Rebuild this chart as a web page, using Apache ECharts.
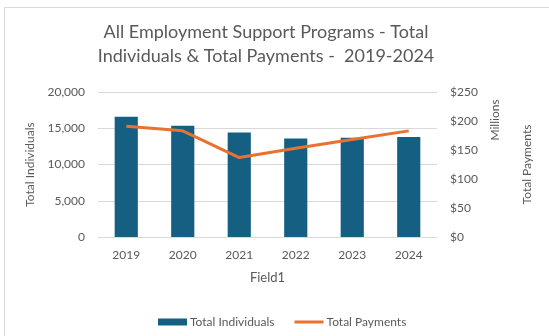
<!DOCTYPE html>
<html>
<head>
<meta charset="utf-8">
<script src="https://cdn.jsdelivr.net/npm/echarts@6/dist/echarts.min.js"></script>
<style>
  html, body { margin: 0; padding: 0; background: #ffffff; }
  #chart { width: 549px; height: 336px; }
</style>
</head>
<body>
<div id="chart"></div>
<script>
// Program years
const years = ['2019', '2020', '2021', '2022', '2023', '2024'];
// Number of individuals supported each year
const totalIndividuals = [16600, 15350, 14400, 13600, 13700, 13800];
// Total payments each year, in millions of dollars
const totalPaymentsMillions = [191, 183, 137, 153, 168, 183];
// Axis tick settings
const individualsTicks = { min: 0, max: 20000, interval: 5000 };
const paymentsTicks = { min: 0, max: 250, interval: 50 };

const textColor = '#595959';
const gridColor = '#d9d9d9';
const fontFamily = 'Lato, "Open Sans", sans-serif';

const chart = echarts.init(document.getElementById('chart'), null, { renderer: 'canvas' });

chart.setOption({
  animation: false,
  textStyle: { fontFamily: fontFamily, color: textColor },
  grid: { left: 98, right: 112, top: 92, bottom: 99, containLabel: false },
  graphic: [
    {
      type: 'rect',
      shape: { x: 4.5, y: 7.5, width: 560, height: 340 },
      style: { fill: 'none', stroke: gridColor, lineWidth: 1 },
      silent: true
    },
    {
      type: 'text',
      x: 266, y: 20,
      style: {
        text: 'All Employment Support Programs - Total\nIndividuals & Total Payments -  2019-2024',
        fill: textColor,
        font: '18px ' + fontFamily,
        align: 'center',
        verticalAlign: 'top',
        lineHeight: 24
      }
    },
    {
      type: 'text',
      x: 495, y: 120,
      rotation: Math.PI / 2,
      style: {
        text: 'Millions',
        fill: textColor,
        font: '12px ' + fontFamily,
        align: 'center',
        verticalAlign: 'middle'
      }
    }
  ],
  legend: {
    left: 153, top: 311,
    itemWidth: 29, itemHeight: 7, itemGap: 20,
    textStyle: { color: textColor, fontSize: 12, fontFamily: fontFamily, padding: [0, 0, 0, -2] },
    data: [
      { name: 'Total Individuals', icon: 'rect' },
      { name: 'Total Payments', icon: 'path://M0,0L29,0L29,3L0,3Z' }
    ]
  },
  xAxis: {
    type: 'category',
    data: years,
    name: 'Field1',
    nameLocation: 'middle',
    nameGap: 34,
    nameTextStyle: { color: textColor, fontSize: 13, fontFamily: fontFamily },
    axisLine: { show: true, lineStyle: { color: gridColor } },
    axisTick: { show: false },
    axisLabel: { color: textColor, fontSize: 12, margin: 12 }
  },
  yAxis: [
    {
      type: 'value',
      min: individualsTicks.min, max: individualsTicks.max, interval: individualsTicks.interval,
      name: 'Total Individuals',
      nameLocation: 'middle',
      nameGap: 57,
      nameTextStyle: { color: textColor, fontSize: 12, fontFamily: fontFamily },
      axisLine: { show: false },
      axisTick: { show: false },
      splitLine: { lineStyle: { color: gridColor } },
      axisLabel: {
        color: textColor, fontSize: 12, margin: 13,
        formatter: v => v.toLocaleString('en-US')
      }
    },
    {
      type: 'value',
      position: 'right',
      min: paymentsTicks.min, max: paymentsTicks.max, interval: paymentsTicks.interval,
      name: 'Total Payments',
      nameLocation: 'middle',
      nameGap: 84,
      nameRotate: 90,
      nameTextStyle: { color: textColor, fontSize: 12, fontFamily: fontFamily },
      axisLine: { show: false },
      axisTick: { show: false },
      splitLine: { show: false },
      axisLabel: {
        color: textColor, fontSize: 12, margin: 13,
        formatter: v => '$' + v
      }
    }
  ],
  series: [
    {
      name: 'Total Individuals',
      type: 'bar',
      yAxisIndex: 0,
      data: totalIndividuals,
      barWidth: '41%',
      itemStyle: { color: '#156082' }
    },
    {
      name: 'Total Payments',
      type: 'line',
      yAxisIndex: 1,
      data: totalPaymentsMillions,
      symbol: 'none',
      lineStyle: { color: '#E97132', width: 3 },
      itemStyle: { color: '#E97132' }
    }
  ]
});
</script>
</body>
</html>
